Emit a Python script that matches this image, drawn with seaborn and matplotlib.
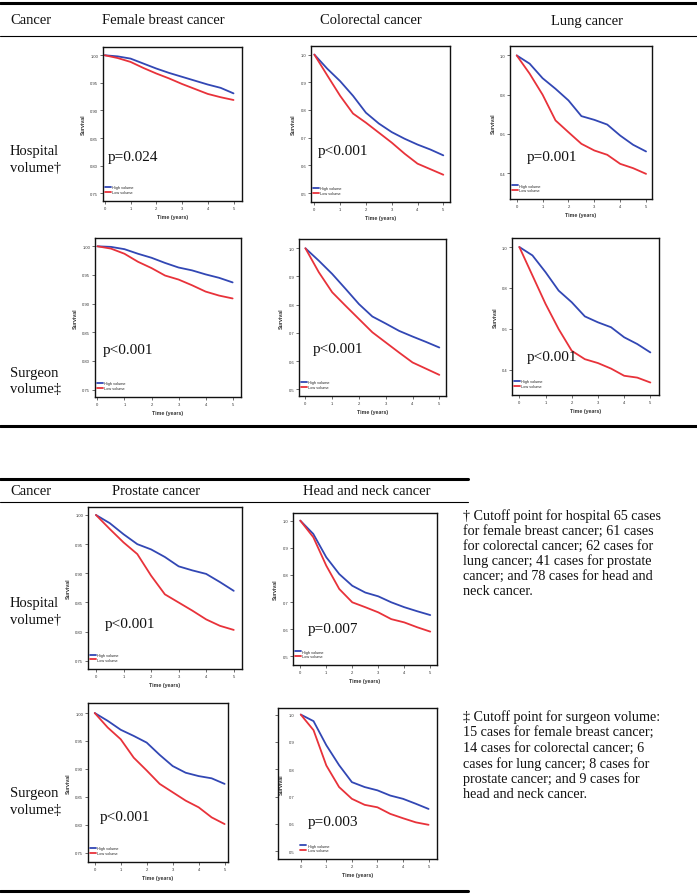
import numpy as np
import pandas as pd
import matplotlib
matplotlib.use('Agg')
import matplotlib.pyplot as plt
from matplotlib.lines import Line2D
import seaborn as sns

# figure size in pixels (dpi 100)
W, H = 697, 895

# ---- data (survival at each half year) ----
years = [0, 0.5, 1, 1.5, 2, 2.5, 3, 3.5, 4, 4.5, 5]

breast_hosp_high = [1.000, 0.998, 0.994, 0.985, 0.976, 0.968, 0.961, 0.954, 0.947, 0.941, 0.931]
breast_hosp_low = [1.000, 0.995, 0.988, 0.977, 0.967, 0.958, 0.948, 0.939, 0.930, 0.924, 0.919]
colo_hosp_high = [1.000, 0.949, 0.904, 0.851, 0.790, 0.751, 0.720, 0.696, 0.675, 0.657, 0.636]
colo_hosp_low = [1.000, 0.925, 0.851, 0.787, 0.754, 0.718, 0.682, 0.642, 0.606, 0.586, 0.566]
lung_hosp_high = [1.000, 0.958, 0.884, 0.830, 0.771, 0.691, 0.672, 0.648, 0.592, 0.545, 0.511]
lung_hosp_low = [1.000, 0.907, 0.800, 0.669, 0.609, 0.550, 0.516, 0.494, 0.448, 0.426, 0.397]

breast_surg_high = [1.000, 0.999, 0.995, 0.987, 0.980, 0.971, 0.963, 0.958, 0.951, 0.945, 0.937]
breast_surg_low = [1.000, 0.996, 0.987, 0.973, 0.962, 0.949, 0.942, 0.932, 0.921, 0.914, 0.909]
colo_surg_high = [1.000, 0.956, 0.909, 0.856, 0.802, 0.758, 0.733, 0.707, 0.687, 0.668, 0.648]
colo_surg_low = [1.000, 0.915, 0.844, 0.796, 0.749, 0.702, 0.666, 0.630, 0.595, 0.573, 0.551]
lung_surg_high = [1.000, 0.959, 0.877, 0.787, 0.730, 0.661, 0.632, 0.608, 0.559, 0.526, 0.485]
lung_surg_low = [1.000, 0.861, 0.722, 0.599, 0.493, 0.452, 0.433, 0.406, 0.371, 0.362, 0.338]

prost_hosp_high = [1.000, 0.986, 0.967, 0.950, 0.941, 0.928, 0.912, 0.905, 0.899, 0.885, 0.870]
prost_hosp_low = [1.000, 0.976, 0.953, 0.933, 0.896, 0.864, 0.850, 0.836, 0.821, 0.810, 0.803]
hn_hosp_high = [1.000, 0.951, 0.865, 0.803, 0.760, 0.735, 0.721, 0.699, 0.681, 0.666, 0.652]
hn_hosp_low = [1.000, 0.939, 0.834, 0.748, 0.699, 0.681, 0.662, 0.637, 0.625, 0.607, 0.591]
prost_surg_high = [1.000, 0.986, 0.970, 0.959, 0.947, 0.925, 0.905, 0.893, 0.887, 0.883, 0.873]
prost_surg_low = [1.000, 0.974, 0.953, 0.920, 0.897, 0.873, 0.858, 0.843, 0.831, 0.813, 0.801]
hn_surg_high = [1.000, 0.976, 0.888, 0.815, 0.753, 0.735, 0.723, 0.704, 0.692, 0.674, 0.655]
hn_surg_low = [1.000, 0.943, 0.814, 0.735, 0.692, 0.670, 0.661, 0.637, 0.621, 0.606, 0.597]

p_values = ['p=0.024', 'p<0.001', 'p=0.001',
            'p<0.001', 'p<0.001', 'p<0.001',
            'p<0.001', 'p=0.007',
            'p<0.001', 'p=0.003']

ticks_05 = [1.00, 0.95, 0.90, 0.85, 0.80, 0.75]
ticks_10 = [1.0, 0.9, 0.8, 0.7, 0.6, 0.5]
ticks_20 = [1.0, 0.8, 0.6, 0.4]
x_ticks = [0, 1, 2, 3, 4, 5]

groups = ['High volume', 'Low volume']
top_cancers = ['Female breast cancer', 'Colorectal cancer', 'Lung cancer']
bottom_cancers = ['Prostate cancer', 'Head and neck cancer']

footnote_hosp = ['\u2020 Cutoff point for hospital 65 cases',
                 'for female breast cancer; 61 cases',
                 'for colorectal cancer; 62 cases for',
                 'lung cancer; 41 cases for prostate',
                 'cancer; and 78 cases for head and',
                 'neck cancer.']
footnote_surg = ['\u2021 Cutoff point for surgeon volume:',
                 '15 cases for female breast cancer;',
                 '14 cases for colorectal cancer; 6',
                 'cases for lung cancer; 8 cases for',
                 'prostate cancer; and 9 cases for',
                 'head and neck cancer.']

# ---- layout: (left, top, right, bottom) box in pixels, xlim, ylim, p-text position ----
panels = [
    dict(high=breast_hosp_high, low=breast_hosp_low, yt=ticks_05, box=(103, 48, 242, 202),
         xlim=(-0.07, 5.33), ylim=(0.736, 1.015), ptxt=(108, 157)),
    dict(high=colo_hosp_high, low=colo_hosp_low, yt=ticks_10, box=(311, 47, 450, 203),
         xlim=(-0.13, 5.26), ylim=(0.4675, 1.031), ptxt=(318, 152)),
    dict(high=lung_hosp_high, low=lung_hosp_low, yt=ticks_20, box=(510, 47, 652, 200),
         xlim=(-0.26, 5.23), ylim=(0.269, 1.048), ptxt=(527, 157)),
    dict(high=breast_surg_high, low=breast_surg_low, yt=ticks_05, box=(95, 239, 241, 398),
         xlim=(-0.09, 5.31), ylim=(0.737, 1.0145), ptxt=(103, 351)),
    dict(high=colo_surg_high, low=colo_surg_low, yt=ticks_10, box=(299, 240, 446, 397),
         xlim=(-0.24, 5.25), ylim=(0.476, 1.033), ptxt=(313, 350)),
    dict(high=lung_surg_high, low=lung_surg_low, yt=ticks_20, box=(512, 239, 659, 396),
         xlim=(-0.28, 5.33), ylim=(0.277, 1.044), ptxt=(527, 358)),
    dict(high=prost_hosp_high, low=prost_hosp_low, yt=ticks_05, box=(88, 508, 242, 670),
         xlim=(-0.29, 5.30), ylim=(0.736, 1.0137), ptxt=(105, 625)),
    dict(high=hn_hosp_high, low=hn_hosp_low, yt=ticks_10, box=(293, 514, 437, 666),
         xlim=(-0.28, 5.26), ylim=(0.468, 1.028), ptxt=(308, 630)),
    dict(high=prost_surg_high, low=prost_surg_low, yt=ticks_05, box=(88, 704, 228, 863),
         xlim=(-0.26, 5.13), ylim=(0.733, 1.018), ptxt=(100, 818)),
    dict(high=hn_surg_high, low=hn_surg_low, yt=ticks_10, box=(278, 709, 437, 860),
         xlim=(-0.89, 5.33), ylim=(0.472, 1.024), ptxt=(308, 823), inside=True),
]

palette = {'High volume': '#3247b4', 'Low volume': '#e8323a'}
SERIF = ['Liberation Serif', 'DejaVu Serif']
SANS = ['Liberation Sans', 'DejaVu Sans']

sns.set_style('white')
plt.rcParams['font.family'] = SANS

fig = plt.figure(figsize=(W / 100, H / 100), dpi=100)
fig.patch.set_facecolor('white')


def fx(x):
    return x / W


def fy(y):
    return 1 - y / H


def hline(y, x0, x1, lw):
    fig.add_artist(Line2D([fx(x0), fx(x1)], [fy(y), fy(y)], color='black', lw=lw,
                          transform=fig.transFigure))


def ftext(x, y, s, size=10.5, ha='left', va='center'):
    fig.text(fx(x), fy(y), s, fontsize=size, ha=ha, va=va, family=SERIF, color='#111111')


# table rules
hline(4, 0, W, 2.2)
hline(37, 0, W, 0.8)
hline(427, 0, W, 2.2)
hline(480, 0, 468, 2.2)
hline(503, 0, 468, 0.8)
hline(892, 0, 468, 2.2)

# header texts
ftext(10, 21, 'Cancer')
for name, cx in zip(top_cancers, [163, 371, 587]):
    ftext(cx, 21, name, ha='center')
ftext(10, 492, 'Cancer')
for name, cx in zip(bottom_cancers, [156, 367]):
    ftext(cx, 492, name, ha='center')

# row labels
row_labels = [('Hospital', 'volume\u2020', 152), ('Surgeon', 'volume\u2021', 373),
              ('Hospital', 'volume\u2020', 603), ('Surgeon', 'volume\u2021', 794)]
for first, second, y0 in row_labels:
    ftext(10, y0, first)
    ftext(10, y0 + 17, second)

# footnotes
for i, line in enumerate(footnote_hosp):
    ftext(463, 516 + i * 15.2, line, size=10.2)
for i, line in enumerate(footnote_surg):
    ftext(463, 717 + i * 15.6, line, size=10.2)

# survival panels
for pan, ptxt in zip(panels, p_values):
    l, t, r, b = pan['box']
    ax = fig.add_axes([fx(l), fy(b), (r - l) / W, (b - t) / H])
    df = pd.DataFrame({
        'time': years + years,
        'survival': pan['high'] + pan['low'],
        'group': [groups[0]] * len(years) + [groups[1]] * len(years),
    })
    sns.lineplot(data=df, x='time', y='survival', hue='group', palette=palette,
                 linewidth=1.3, ax=ax)
    ax.set_xlim(*pan['xlim'])
    ax.set_ylim(*pan['ylim'])
    ax.set_xticks(x_ticks)
    ax.set_xticklabels([str(v) for v in x_ticks])
    ax.set_yticks(pan['yt'])
    dec = 2 if pan['yt'] is ticks_05 else 1
    ax.set_yticklabels([f'{v:.{dec}f}' for v in pan['yt']])
    ax.tick_params(axis='both', labelsize=3, length=2, width=0.5, colors='#333333',
                   direction='out', left=True, bottom=True, pad=1.5)
    for sp in ax.spines.values():
        sp.set_visible(True)
        sp.set_color('#111111')
        sp.set_linewidth(1.0)
    ax.set_xlabel('Time (years)', fontsize=3.8, labelpad=3, fontweight='bold', color='#333333')
    ax.set_ylabel('Survival', fontsize=3.8, labelpad=3, fontweight='bold', color='#333333')
    leg_x = 0.0
    if pan.get('inside'):
        # this chart frames its own axis labels
        ax.tick_params(axis='y', pad=-14)
        ax.yaxis.set_label_coords(0.035, 0.5)
        leg_x = 0.13
    handles, labels = ax.get_legend_handles_labels()
    ax.legend(handles, labels, loc='lower left', bbox_to_anchor=(leg_x, 0.035), fontsize=2.8,
              frameon=False, handlelength=1.6, handletextpad=0.3, labelspacing=0.15,
              borderaxespad=0.2, borderpad=0.2)
    fig.text(fx(pan['ptxt'][0]), fy(pan['ptxt'][1]), ptxt, fontsize=11, family=SERIF,
             ha='left', va='center', color='#111111')

fig.savefig('out.png', dpi=100, facecolor='white')
